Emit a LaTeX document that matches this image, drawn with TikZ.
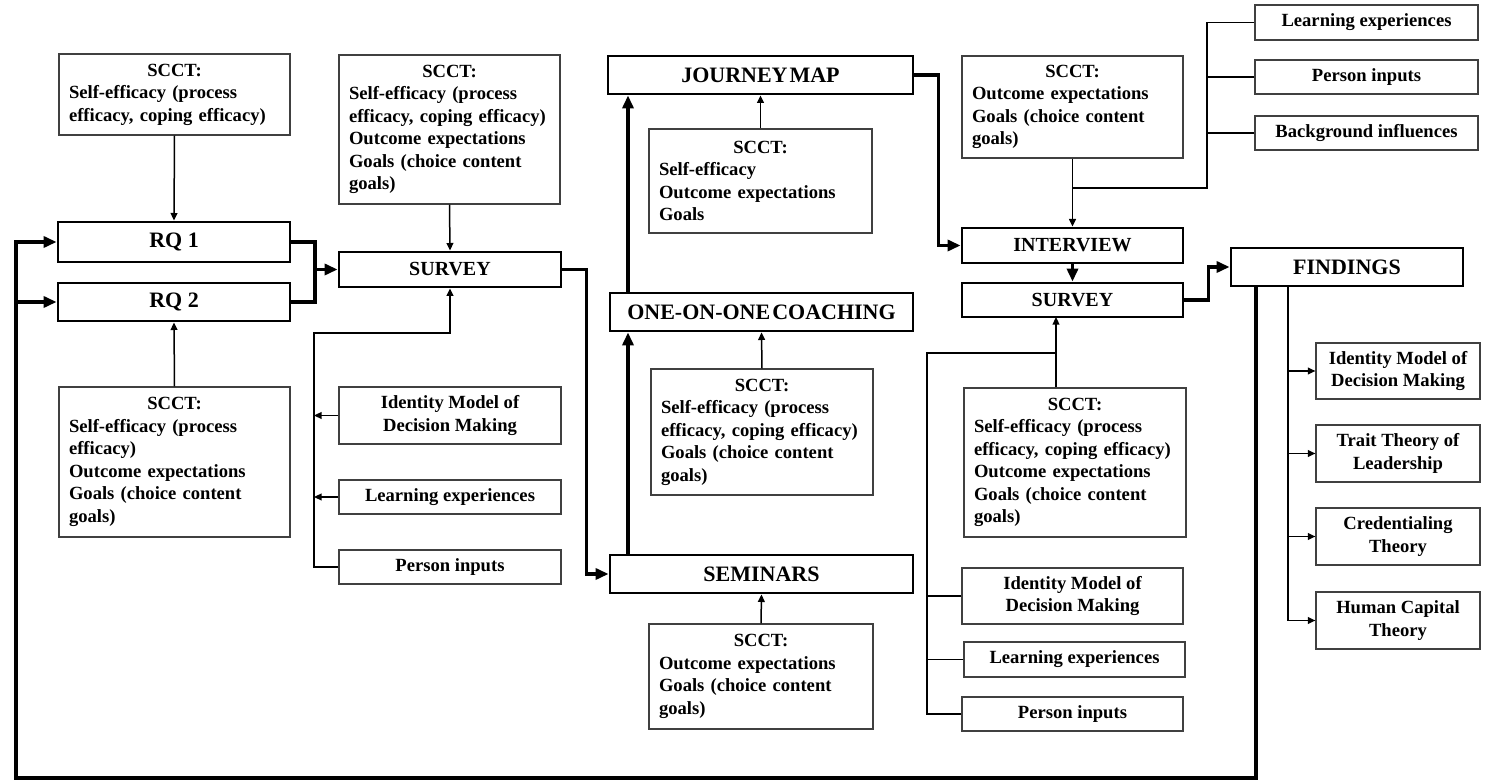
\documentclass[tikz,border=0pt]{standalone}
\usepackage{fontspec}
\setmainfont{Liberation Serif}
\usetikzlibrary{arrows.meta}
\newcommand{\scctttl}{{\centering SCCT:\par}}
\begin{document}
\begin{tikzpicture}[x=0.5pt,y=-0.5pt,
  tbox/.style={draw=black!75, line width=0.6pt, inner sep=0pt, font=\fontsize{9.3}{11.25}\selectfont\bfseries, align=center},
  sbox/.style={tbox, align=left, inner xsep=5pt},
  hbox/.style={draw=black, line width=1.4pt, inner sep=0pt, font=\fontsize{11}{13}\selectfont\bfseries},
  hsmall/.style={hbox, font=\fontsize{10}{12}\selectfont\bfseries},
  sz/.style 2 args={minimum width=#1, minimum height=#2},
  thn/.style={line width=0.75pt},
  thna/.style={thn, -{Triangle[length=3.8pt,width=3.4pt]}},
  thk/.style={line width=1.8pt},
  thka/.style={thk, -{Triangle[length=6.5pt,width=5.5pt]}},
]
\useasboundingbox (0,0) rectangle (1496,780);

% ---------- SCCT boxes ----------
\node[sbox, text width=105.5pt, minimum height=40.5pt] (scct1) at (174.5,94.5)
  {\scctttl Self-efficacy (process\\efficacy, coping efficacy)};
\node[sbox, text width=100.5pt, minimum height=74.5pt] (scct2) at (449.5,129.5)
  {\scctttl Self-efficacy (process\\efficacy, coping efficacy)\\Outcome expectations\\Goals (choice content\\goals)};
\node[sbox, text width=101.5pt, minimum height=52pt] (scctjm) at (760.5,181)
  {\scctttl Self-efficacy\\Outcome expectations\\Goals};
\node[sbox, text width=100.5pt, minimum height=51pt] (sccti) at (1072.5,107)
  {\scctttl Outcome expectations\\Goals (choice content\\goals)};
\node[sbox, text width=105.5pt, minimum height=75pt] (scctrq2) at (174.5,462)
  {\scctttl Self-efficacy (process\\efficacy)\\Outcome expectations\\Goals (choice content\\goals)};
\node[sbox, text width=101pt, minimum height=63pt] (scctc) at (762,432)
  {\scctttl Self-efficacy (process\\efficacy, coping efficacy)\\Goals (choice content\\goals)};
\node[sbox, text width=102pt, minimum height=52.5pt] (sccts) at (761,676.5)
  {\scctttl Outcome expectations\\Goals (choice content\\goals)};
\node[sbox, text width=101pt, minimum height=74.5pt] (scctsv2) at (1075,462.5)
  {\scctttl Self-efficacy (process\\efficacy, coping efficacy)\\Outcome expectations\\Goals (choice content\\goals)};

% ---------- small thin boxes ----------
\node[tbox, sz={111.5pt}{17.5pt}] (le1) at (1366.5,22.5) {Learning experiences};
\node[tbox, sz={111.5pt}{17pt}] (pi1) at (1366.5,77) {Person inputs};
\node[tbox, sz={111.5pt}{17pt}] (bi) at (1366.5,133) {Background influences};

\node[tbox, sz={111pt}{28.5pt}] (idm1) at (450,415.5) {Identity Model of\\Decision Making};
\node[tbox, sz={111pt}{17pt}] (le2) at (450,497) {Learning experiences};
\node[tbox, sz={111pt}{17pt}] (pi2) at (450,567) {Person inputs};

\node[tbox, sz={110.5pt}{28pt}] (idm2) at (1072.5,596) {Identity Model of\\Decision Making};
\node[tbox, sz={110.5pt}{17.5pt}] (le3) at (1074.5,659.5) {Learning experiences};
\node[tbox, sz={110.5pt}{17pt}] (pi3) at (1072.5,714) {Person inputs};

\node[tbox, sz={82pt}{28pt}] (t1) at (1398,371) {Identity Model of\\Decision Making};
\node[tbox, sz={82pt}{28.5pt}] (t2) at (1398,453.5) {Trait Theory of\\Leadership};
\node[tbox, sz={82pt}{28.5pt}] (t3) at (1398,536.5) {Credentialing\\Theory};
\node[tbox, sz={82pt}{28.5pt}] (t4) at (1398,620.5) {Human Capital\\Theory};

% ---------- thick boxes ----------
\node[hbox, sz={116pt}{20pt}] (rq1) at (174,242) {RQ 1};
\node[hbox, sz={116pt}{19pt}] (rq2) at (174,302) {RQ 2};
\node[hsmall, sz={111pt}{17.5pt}] (sv1) at (450,269.5) {SURVEY};
\node[hbox, sz={152.5pt}{19pt}] (jm) at (760.5,75) {JOURNEY\kern1pt MAP};
\node[hbox, sz={151.5pt}{19pt}] (oc) at (761.5,312) {ONE-ON-ONE\kern1pt COACHING};
\node[hbox, sz={151.5pt}{19pt}] (sem) at (761.5,574) {SEMINARS};
\node[hsmall, sz={110.5pt}{17.5pt}] (iv) at (1072.5,245.5) {INTERVIEW};
\node[hsmall, sz={110.5pt}{17pt}] (sv2) at (1072.5,300) {SURVEY};
\node[hbox, sz={116pt}{19pt}] (fd) at (1347,267) {FINDINGS};

% ---------- helper coordinates ----------
\coordinate (jn) at (315,269.5);
\coordinate (cx) at (628,0);
\coordinate (fb) at (1256,0);
\coordinate (bl) at (16,778);
\coordinate (fbk1) at (314,333);
\coordinate (fbk2) at (927,353);
\coordinate (sv2b) at (1056,317);
\coordinate (br) at (1207,188);
\coordinate (tx) at (1288,0);

% ---------- thick connectors ----------
\draw[thk] (rq1.east) -| (jn);
\draw[thk] (rq2.east) -| (jn);
\draw[thka] (jn) -- (sv1.west);
\draw[thka] (sv1.east) -- ++(24,0) |- (sem.west);
\draw[thka] (sem.north -| cx) -- (oc.south -| cx);
\draw[thka] (oc.north -| cx) -- (jm.south -| cx);
\draw[thka] (jm.east) -- ++(24,0) |- (iv.west);
\draw[thka] (iv.south) -- (sv2.north);
\draw[thka] (sv2.east) -- ++(24,0) |- (fd.west);
\draw[thka] (fd.south -| fb) |- (bl) |- (rq1.west);
\draw[thka] (bl |- rq2.west) -- (rq2.west);

% ---------- thin connectors ----------
\draw[thna] (scct1.south) -- (rq1.north);
\draw[thna] (scctrq2.north) -- (rq2.south);
\draw[thna] (scct2.south) -- (sv1.north);
\draw[thna] (scctjm.north) -- (jm.south);
\draw[thna] (scctc.north) -- (oc.south);
\draw[thna] (sccts.north) -- (sem.south);

\draw[thna] (pi2.west) -| (fbk1) -| (sv1.south);
\draw[thna] (idm1.west) -- (idm1.west -| fbk1);
\draw[thna] (le2.west) -- (le2.west -| fbk1);

\draw[thna] (sccti.south) -- (iv.north);
\draw[thn] (le1.west) -| (br) -- (br -| sccti.south);
\draw[thn] (pi1.west) -- (pi1.west -| br);
\draw[thn] (bi.west) -- (bi.west -| br);

\draw[thna] (scctsv2.north -| sv2b) -- (sv2b);
\draw[thn] (pi3.west) -| (fbk2) -- (fbk2 -| sv2b);
\draw[thn] (idm2.west) -- (idm2.west -| fbk2);
\draw[thn] (le3.west) -- (le3.west -| fbk2);

\draw[thna] (fd.south -| tx) |- (t4.west);
\draw[thna] (t1.west -| tx) -- (t1.west);
\draw[thna] (t2.west -| tx) -- (t2.west);
\draw[thna] (t3.west -| tx) -- (t3.west);
\end{tikzpicture}
\end{document}
